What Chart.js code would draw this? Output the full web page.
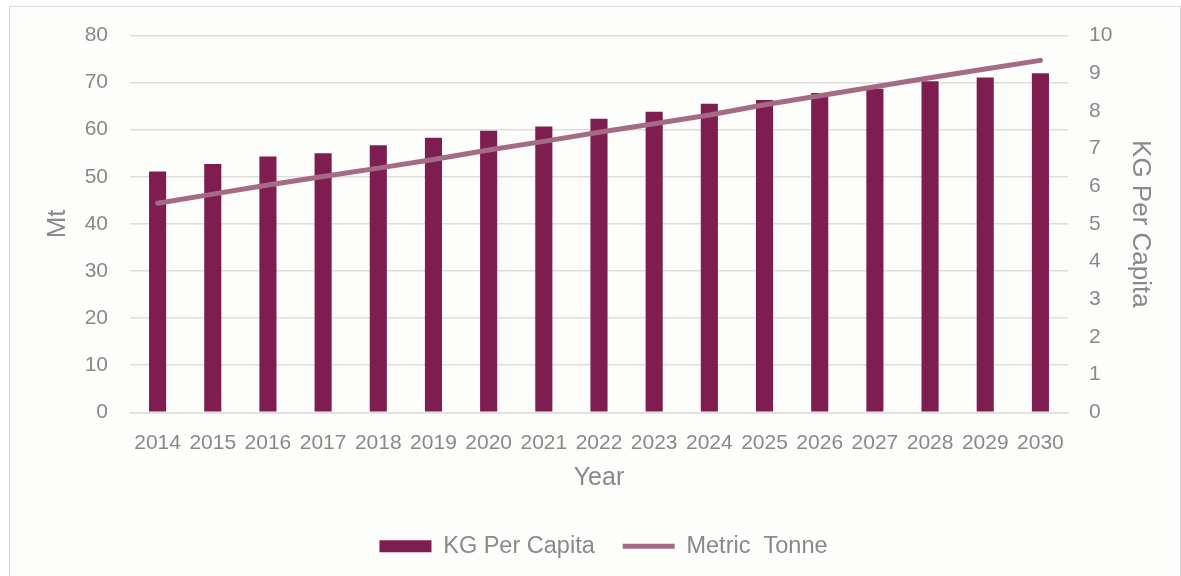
<!DOCTYPE html>
<html>
<head>
<meta charset="utf-8">
<script src="https://cdn.jsdelivr.net/npm/chart.js@4/dist/chart.umd.min.js"></script>
<style>
    html, body { margin: 0; padding: 0; background: #ffffff; }
    #box {
        position: absolute;
        left: 9px;
        top: 6px;
        width: 1170px;
        height: 580px;
        border: 1px solid #d9d9d9;
        background: #fdfdfc;
    }
</style>
</head>
<body>
<div id="box"><canvas id="perCapitaGraph" width="1170" height="580"></canvas></div>
<script>
var years = ["2014", "2015", "2016", "2017", "2018", "2019", "2020", "2021", "2022",
    "2023", "2024", "2025", "2026", "2027", "2028", "2029", "2030"];
var kgPerCapita = [51.1, 52.7, 54.3, 55.0, 56.7, 58.3, 59.8, 60.7, 62.3,
    63.8, 65.5, 66.3, 67.8, 68.7, 70.3, 71.1, 72.0];
var metricTonne = [5.55, 5.79, 6.03, 6.26, 6.48, 6.71, 6.96, 7.19, 7.43,
    7.66, 7.89, 8.16, 8.40, 8.64, 8.88, 9.11, 9.34];

var textGrey = "#898989";
var gridGrey = "#dedede";
Chart.defaults.font.family = "'Liberation Sans', Arial, sans-serif";
Chart.defaults.color = textGrey;

// y axes: fixed width, and don't let tick padding push the plot down
function fit_y_axis(width) {
    return (scale) => {
        scale.width = width;
        scale.paddingTop = 10;
        scale.paddingBottom = 10;
    };
}

var perCapitaGraph = new Chart("perCapitaGraph", {
    type: "bar",
    data: {
        labels: years,
        datasets: [
            {
                type: "bar",
                label: "KG Per Capita",
                data: kgPerCapita,
                yAxisID: "y",
                order: 1,
                backgroundColor: "#7e1e50",
                borderWidth: 0,
                pointStyle: "rect",
                categoryPercentage: 0.62,
                barPercentage: 0.5,
            },
            {
                type: "line",
                label: "Metric  Tonne",
                data: metricTonne,
                yAxisID: "y1",
                order: 0,
                borderColor: "#a56b84",
                backgroundColor: "#a56b84",
                borderWidth: 5,
                borderCapStyle: "round",
                pointRadius: 0,
                pointStyle: "line",
                tension: 0,
            },
        ],
    },
    options: {
        responsive: false,
        animation: false,
        layout: {
            padding: { top: 28.5, left: 17, right: 0, bottom: 19 },
        },
        plugins: {
            tooltip: { enabled: false },
            legend: {
                position: "bottom",
                labels: {
                    usePointStyle: true,
                    pointStyleWidth: 52,
                    boxHeight: 12,
                    padding: 28,
                    color: textGrey,
                    font: { size: 23.5 },
                    sort: (a, b) => a.datasetIndex - b.datasetIndex,
                },
            },
        },
        scales: {
            x: {
                grid: { display: false },
                border: { display: true, color: gridGrey, width: 1.5 },
                ticks: { color: textGrey, font: { size: 21 }, padding: 10, maxRotation: 0, autoSkip: false },
                title: { display: true, text: "Year", color: textGrey, font: { size: 25 }, padding: { top: -2, bottom: 13 } },
            },
            y: {
                position: "left",
                min: 0,
                max: 80,
                afterFit: fit_y_axis(103),
                ticks: { stepSize: 10, color: textGrey, font: { size: 21 }, padding: 22 },
                grid: { color: gridGrey, lineWidth: 1.5, drawTicks: false },
                border: { display: false },
                title: { display: true, text: "Mt", color: textGrey, font: { size: 26 }, padding: { top: 15, bottom: 0 } },
            },
            y1: {
                position: "right",
                min: 0,
                max: 10,
                afterFit: fit_y_axis(112),
                ticks: { stepSize: 1, color: textGrey, font: { size: 21 }, padding: 21 },
                grid: { display: false, drawTicks: false },
                border: { display: false },
                title: { display: true, text: "KG Per Capita", color: textGrey, font: { size: 26 }, padding: { top: 24, bottom: 0 } },
            },
        },
    },
});
</script>
</body>
</html>
